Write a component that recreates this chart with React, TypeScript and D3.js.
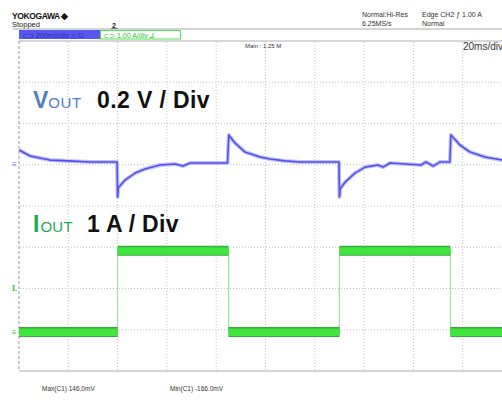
import React from "react";
import * as d3 from "d3";

// time (ms) and Vout (V), 20 ms/div, 0.2 V/div
const voutTime = [0, 4.5, 8.5, 12.6, 19.9, 28.8, 39.8, 40.0, 40.3, 43.0, 47.1, 51.1, 57.2, 63.3, 66.5, 69.4, 77.5, 84.6, 85.1, 87.6, 91.7, 97.8, 101.8, 107.9, 114.0, 129.8, 130.0, 130.3, 132.3, 136.3, 140.4, 145.6, 147.7, 150.5, 163.1, 165.1, 168.0, 170.8, 174.8, 175.2, 178.9, 183.0, 189.0, 196.0, 200];
const voutValue = [0.068, 0.039, 0.029, 0.019, 0.015, 0.010, 0.010, -0.160, -0.115, -0.078, -0.044, -0.024, -0.005, 0.0, -0.010, 0.005, 0.005, 0.005, 0.141, 0.102, 0.058, 0.034, 0.024, 0.015, 0.010, 0.010, -0.160, -0.120, -0.088, -0.044, -0.015, -0.005, -0.015, 0.005, -0.005, 0.010, -0.010, 0.010, 0.010, 0.141, 0.092, 0.058, 0.034, 0.019, 0.015];

// Iout (A) step profile
const ioutTime = [0, 40, 40, 85, 85, 130, 130, 175, 175, 200];
const ioutValue = [0, 0, 1.97, 1.97, 0, 0, 1.97, 1.97, 0, 0];

const xTicks = [0, 20, 40, 60, 80, 100, 120, 140, 160, 180, 200];
const yDivs = [0, 1, 2, 3, 4, 5, 6, 7, 8];

const W = 502;
const H = 408;

export default function App() {
  const x = d3.scaleLinear().domain([0, 200]).range([19, 512]);
  const gridY = d3.scaleLinear().domain([0, 8]).range([41, 371]);
  const yV = d3.scaleLinear().domain([0, 0.2]).range([164, 164 - 41.25]);
  const yI = d3.scaleLinear().domain([0, 1]).range([332, 332 - 41.25]);

  const vPts: [number, number][] = voutTime.map((t, i) => [t, voutValue[i]]);
  const iPts: [number, number][] = ioutTime.map((t, i) => [t, ioutValue[i]]);

  const vLine = d3.line<[number, number]>().x((d) => x(d[0])).y((d) => yV(d[1]));
  const iLine = d3.line<[number, number]>().x((d) => x(d[0])).y((d) => yI(d[1]));

  // flat segments of current for thick band
  const flats: [number, number, number][] = [];
  for (let i = 0; i < iPts.length - 1; i++) {
    if (iPts[i][1] === iPts[i + 1][1] && iPts[i][0] !== iPts[i + 1][0]) {
      flats.push([iPts[i][0], iPts[i + 1][0], iPts[i][1]]);
    }
  }

  const scopeFont = "'Liberation Sans', Arial, sans-serif";
  const labelFont = "'Liberation Sans', Arial, sans-serif";

  return (
    <svg width={W} height={H} style={{ position: "absolute", left: 0, top: 0, background: "#fff" }}>
      <rect x={0} y={0} width={W} height={H} fill="#fff" />
      {/* header */}
      <text x={12} y={19} fontFamily={scopeFont} fontSize={8.5} fontWeight="bold" fill="#111" letterSpacing={-0.4}>YOKOGAWA ◆</text>
      <text x={12} y={27} fontFamily={scopeFont} fontSize={7.5} fill="#222">Stopped</text>
      <text x={112} y={28} fontFamily={scopeFont} fontSize={7} fontWeight="bold" fill="#222">2</text>
      <line x1={111} x2={118} y1={28.5} y2={28.5} stroke="#222" strokeWidth={0.8} />
      <text x={362} y={17} fontFamily={scopeFont} fontSize={7} fill="#333">Normal:Hi-Res</text>
      <text x={362} y={26} fontFamily={scopeFont} fontSize={7} fill="#333">6.25MS/s</text>
      <text x={422} y={17} fontFamily={scopeFont} fontSize={7} fill="#333">Edge CH2 ƒ 1.00 A</text>
      <text x={422} y={26} fontFamily={scopeFont} fontSize={7} fill="#333">Normal</text>
      <line x1={13} x2={W} y1={29} y2={29} stroke="#aaa" strokeWidth={1} />
      <rect x={19} y={30} width={81} height={9} fill="#5858f0" />
      <text x={22} y={37.5} fontFamily={scopeFont} fontSize={7} fill="#2a2ab8">⊂⊃  200mV/div △ ⊡</text>
      <rect x={100.5} y={30.5} width={80} height={8.5} fill="#fff" stroke="#55e055" strokeWidth={1} />
      <text x={103} y={37.5} fontFamily={scopeFont} fontSize={7} fill="#22cc22">⊂⊃  1.00 A/div ⅃</text>

      {/* grid */}
      <line x1={19} x2={W} y1={41} y2={41} stroke="#b0b0b0" strokeWidth={1} />
      {xTicks.slice(1).map((t) => (
        <line key={"vx" + t} x1={x(t)} x2={x(t)} y1={42} y2={370} stroke="#c4c4c4" strokeWidth={1} strokeDasharray="1,2" />
      ))}
      {yDivs.slice(1, 8).map((d) => (
        <line key={"hy" + d} x1={20} x2={W} y1={gridY(d)} y2={gridY(d)} stroke="#c4c4c4" strokeWidth={1} strokeDasharray="1,2" />
      ))}
      <line x1={19} x2={19} y1={41} y2={371} stroke="#999" strokeWidth={1} strokeDasharray="3,2" />
      <line x1={19} x2={W} y1={371} y2={371} stroke="#aaa" strokeWidth={1} />
      <text x={245} y={48} fontFamily={scopeFont} fontSize={6} fill="#333">Main : 1.25 M</text>
      <text x={463} y={50} fontFamily={scopeFont} fontSize={10} fill="#333">20ms/div</text>

      {/* markers */}
      <text x={12} y={167} fontFamily={scopeFont} fontSize={8} fill="#6a6af0">≡</text>
      <text x={12} y={335} fontFamily={scopeFont} fontSize={8} fill="#33cc33">≡</text>
      <text x={12} y={291} fontFamily="'Liberation Serif', serif" fontSize={8} fontWeight="bold" fill="#33bb33">I.</text>

      {/* Iout trace */}
      <path d={iLine(iPts) || ""} fill="none" stroke="#8fe88f" strokeWidth={1} />
      {flats.map((f, i) => (
        <g key={"fl" + i}>
          <line x1={x(f[0])} x2={x(f[1])} y1={yI(f[2])} y2={yI(f[2])} stroke="#3aa83a" strokeWidth={10} />
          <line x1={x(f[0])} x2={x(f[1])} y1={yI(f[2]) + 0.3} y2={yI(f[2]) + 0.3} stroke="#40e640" strokeWidth={7.5} />
        </g>
      ))}

      {/* Vout trace */}
      <path d={vLine(vPts) || ""} fill="none" stroke="#c2c2f8" strokeWidth={4} strokeLinejoin="round" />
      <path d={vLine(vPts) || ""} fill="none" stroke="#5050ec" strokeWidth={1.6} strokeLinejoin="round" />

      {/* annotations */}
      <text x={33} y={108} fontFamily={labelFont} fill="#4f7fbf">
        <tspan fontSize={23} fontWeight="bold">V</tspan>
        <tspan fontSize={15} letterSpacing={0.6}>OUT</tspan>
      </text>
      <text x={97} y={108} fontFamily={labelFont} fontSize={23} fontWeight="bold" fill="#111" letterSpacing={0.4}>0.2 V / Div</text>
      <text x={33} y={232} fontFamily={labelFont} fill="#1faa55">
        <tspan fontSize={23} fontWeight="bold">I</tspan>
        <tspan fontSize={15} dx={1} letterSpacing={0.3}>OUT</tspan>
      </text>
      <text x={87} y={232} fontFamily={labelFont} fontSize={23} fontWeight="bold" fill="#111" letterSpacing={0.3}>1 A / Div</text>

      {/* measurements */}
      <text x={42} y={391} fontFamily={scopeFont} fontSize={6.5} fill="#333">Max(C1)   146.0mV</text>
      <text x={170} y={391} fontFamily={scopeFont} fontSize={6.5} fill="#333">Min(C1)  -166.0mV</text>
    </svg>
  );
}
